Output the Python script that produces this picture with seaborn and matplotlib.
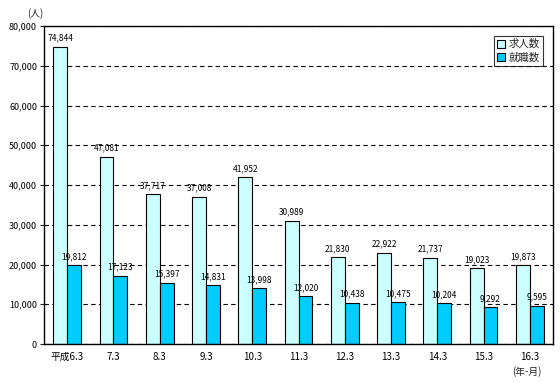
import pandas as pd
import matplotlib.pyplot as plt
import seaborn as sns
from matplotlib.ticker import FuncFormatter

# Data
periods = ["平成6.3", "7.3", "8.3", "9.3", "10.3", "11.3", "12.3", "13.3", "14.3", "15.3", "16.3"]
openings = [74844, 47081, 37717, 37008, 41952, 30989, 21830, 22922, 21737, 19023, 19873]
placements = [19812, 17123, 15397, 14831, 13998, 12020, 10438, 10475, 10204, 9292, 9595]
series_names = ["求人数", "就職数"]

PALETTE = ["#CCFFFF", "#00CCFF"]

df = pd.DataFrame({
    "period": periods * 2,
    "value": openings + placements,
    "series": [series_names[0]] * len(periods) + [series_names[1]] * len(periods),
})

sns.set_style("white")
plt.rcParams['font.family'] = ['Noto Sans CJK JP', 'DejaVu Sans']

fig = plt.figure(figsize=(5.6, 3.83), dpi=100)
ax = fig.add_axes([0.0786, 0.1018, 0.9089, 0.8302])

sns.barplot(data=df, x="period", y="value", hue="series", palette=PALETTE,
            saturation=1, width=0.6, gap=0, edgecolor="black", linewidth=0.8,
            ax=ax, order=periods, hue_order=series_names)

# value labels above bars
for cont in ax.containers:
    ax.bar_label(cont, labels=[f"{int(v):,}" for v in cont.datavalues],
                 fontsize=6, padding=3, color="black")

ax.set_ylim(0, 80000)
ax.set_yticks(range(0, 80001, 10000))
ax.yaxis.set_major_formatter(FuncFormatter(lambda v, _: f"{int(v):,}"))
ax.set_xlim(-0.5, len(periods) - 0.5)
ax.yaxis.grid(True, color="black", linestyle=(0, (4, 3)), linewidth=0.8)
ax.set_axisbelow(True)
for s in ax.spines.values():
    s.set_color("black")
    s.set_linewidth(1.0)
ax.tick_params(axis="y", length=3, width=0.8, labelsize=6.5, left=True, pad=2,
               labelcolor="black")
ax.tick_params(axis="x", length=0, labelsize=7, pad=6, labelcolor="black")
ax.set_xlabel("")
ax.set_ylabel("")

fig.text(0.048, 0.965, "(人)", fontsize=7, ha="left", va="center")
fig.text(0.94, 0.03, "(年-月)", fontsize=7, ha="center", va="center")

leg = ax.legend(loc="upper right", bbox_to_anchor=(0.99, 0.985), fontsize=7.5,
                frameon=True, fancybox=False, edgecolor="black",
                handlelength=0.8, handleheight=0.8, handletextpad=0.3,
                borderpad=0.3, labelspacing=0.3)
leg.get_frame().set_linewidth(0.8)

fig.savefig("out.png", dpi=100)
